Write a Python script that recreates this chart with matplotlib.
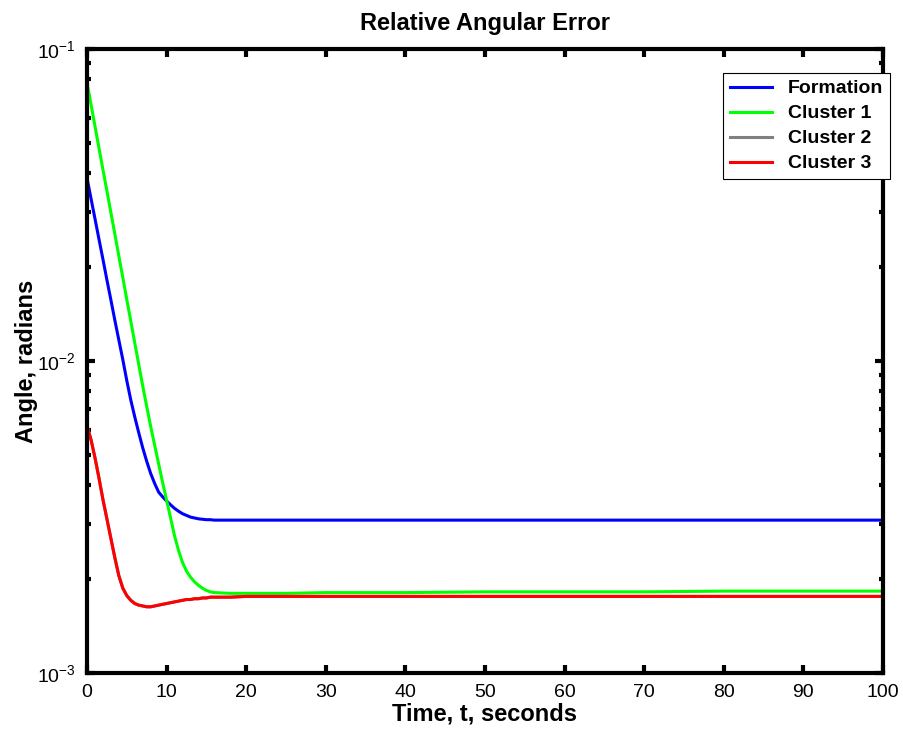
import numpy as np
import matplotlib
matplotlib.use('Agg')
import matplotlib.pyplot as plt
from matplotlib.ticker import LogLocator, NullFormatter

plt.rcParams['font.family'] = ['Liberation Sans', 'DejaVu Sans']

# time axis (seconds)
time = [0, 0.5, 1, 1.5, 2, 2.5, 3, 3.5, 4, 4.5, 5, 5.5, 6, 6.5, 7, 7.5, 8,
        8.5, 9, 9.5, 10, 10.5, 11, 11.5, 12, 12.5, 13, 13.5, 14, 14.5, 15,
        15.5, 16, 18, 20, 25, 30, 40, 50, 60, 70, 80, 90, 100]

formation = [0.0386, 0.0332, 0.0286, 0.0246, 0.0212, 0.0182, 0.0157, 0.0135,
             0.01167, 0.0101, 0.00865, 0.0075, 0.00662, 0.00589, 0.00527,
             0.00477, 0.00436, 0.00405, 0.0038, 0.00367, 0.00356, 0.00346,
             0.00337, 0.0033, 0.00324, 0.0032, 0.00316, 0.00314, 0.00312,
             0.00311, 0.0031, 0.0031, 0.00309, 0.00309, 0.00309, 0.00309,
             0.00309, 0.00309, 0.00309, 0.00309, 0.00309, 0.00309, 0.00309,
             0.00309]

cluster1 = [0.078, 0.0665, 0.0566, 0.0482, 0.0411, 0.0351, 0.0299, 0.0255,
            0.0217, 0.0185, 0.01574, 0.01343, 0.01143, 0.00975, 0.00832,
            0.00715, 0.00617, 0.00537, 0.00468, 0.00408, 0.00358, 0.00314,
            0.00275, 0.00247, 0.00226, 0.00212, 0.00203, 0.00196, 0.00191,
            0.00187, 0.00184, 0.00182, 0.00181, 0.0018, 0.0018, 0.0018,
            0.00181, 0.00181, 0.00182, 0.00182, 0.00182, 0.00183, 0.00183,
            0.00183]

cluster3 = [0.0062, 0.0056, 0.0049, 0.00422, 0.0036, 0.00312, 0.0027, 0.00234,
            0.00205, 0.00187, 0.00177, 0.00171, 0.00167, 0.00165, 0.00164,
            0.00163, 0.00163, 0.00164, 0.00165, 0.00166, 0.00167, 0.00168,
            0.00169, 0.0017, 0.00171, 0.00172, 0.00172, 0.00173, 0.00173,
            0.00174, 0.00174, 0.00175, 0.00175, 0.00175, 0.00176, 0.00176,
            0.00176, 0.00176, 0.00176, 0.00176, 0.00176, 0.00176, 0.00176,
            0.00176]

# cluster 2 is hidden under cluster 3 in the original
cluster2 = list(cluster3)

labels = ['Formation', 'Cluster 1', 'Cluster 2', 'Cluster 3']
colors = ['#0000ff', '#00ff00', '#808080', '#ff0000']

fig = plt.figure(figsize=(9.04, 7.44), dpi=100)
ax = fig.add_axes([87/904., 71/744., 796/904., 624/744.])

for y, lab, c in zip([formation, cluster1, cluster2, cluster3], labels, colors):
  ax.plot(time, y, color=c, linewidth=2.2, label=lab)

ax.set_yscale('log')
ax.set_xlim(0, 100)
ax.set_ylim(1e-3, 1e-1)
ax.set_xticks(np.arange(0, 101, 10))
ax.yaxis.set_major_locator(LogLocator(base=10, numticks=5))
ax.yaxis.set_minor_locator(LogLocator(base=10, subs=np.arange(2, 10), numticks=20))
ax.yaxis.set_minor_formatter(NullFormatter())

for s in ax.spines.values():
  s.set_linewidth(3)
ax.tick_params(which='both', direction='in', top=True, right=True,
               labelsize=14, width=3)
ax.tick_params(which='major', length=6, pad=8)
ax.tick_params(which='minor', length=3)

ax.set_title('Relative Angular Error', fontsize=17, fontweight='bold', pad=14)
ax.set_xlabel('Time, t, seconds', fontsize=17, fontweight='bold', labelpad=1)
ax.set_ylabel('Angle, radians', fontsize=17, fontweight='bold')
ax.yaxis.set_label_coords(-0.0616, 0.5)

leg = ax.legend(loc='upper right', bbox_to_anchor=(1.009, 0.9615),
                borderaxespad=0, fancybox=False, framealpha=1,
                edgecolor='black', prop={'size': 14, 'weight': 'bold'},
                handlelength=2.2, handletextpad=0.8, labelspacing=0.38,
                borderpad=0.35)
leg.get_frame().set_linewidth(0.8)

fig.savefig('out.png', dpi=100)
